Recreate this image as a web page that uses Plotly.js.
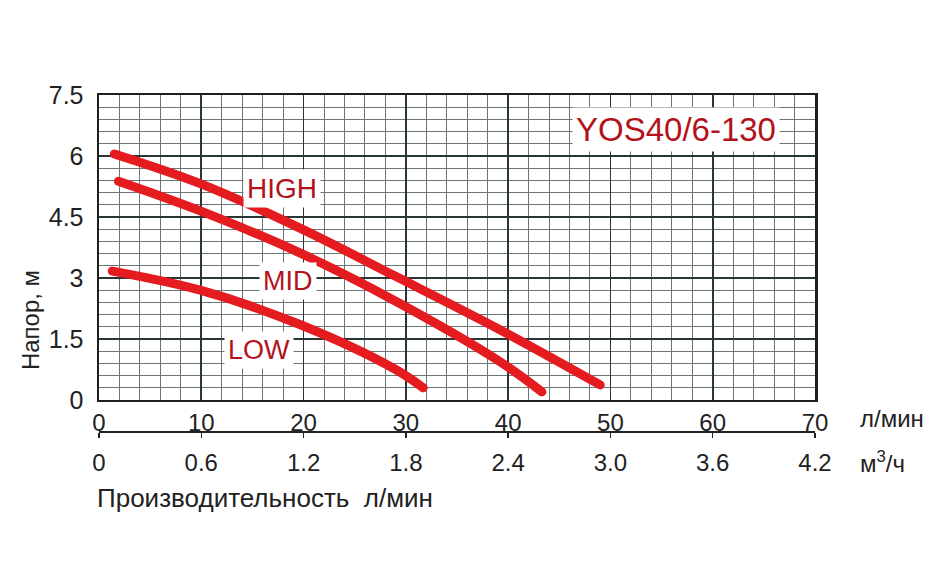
<!DOCTYPE html>
<html>
<head>
<meta charset="utf-8">
<script src="https://cdn.plot.ly/plotly-3.0.1.min.js"></script>
<style>
html,body{margin:0;padding:0;background:#fff;}
#chart{width:949px;height:587px;}
#chart path.js-line{stroke-linecap:round;stroke-linejoin:round;}
</style>
</head>
<body>
<div id="chart"></div>
<script>
// Flow (л/мин) and head (м)
const highFlow = [1.5, 9.9, 19.7, 29.0, 39.1, 49.0];
const highHead = [6.05, 5.32, 4.22, 3.04, 1.74, 0.37];
const midFlow  = [1.9, 9.9, 19.7, 29.0, 39.1, 43.3];
const midHead  = [5.38, 4.65, 3.61, 2.43, 0.96, 0.20];
const lowFlow  = [1.3, 9.9, 19.7, 29.0, 31.7];
const lowHead  = [3.17, 2.70, 1.85, 0.75, 0.30];

const flowTicks = [0, 10, 20, 30, 40, 50, 60, 70];
const headTicks = [0, 1.5, 3, 4.5, 6, 7.5];
const cubicTicks = [0, 0.6, 1.2, 1.8, 2.4, 3.0, 3.6, 4.2];
const cubicTickText = ['0', '0.6', '1.2', '1.8', '2.4', '3.0', '3.6', '4.2'];

const curveColor = '#e41b1f';
const labelColor = '#b3121b';
const FONT = 'Liberation Sans, Arial, sans-serif';

function curve(x, y, name) {
  return {x: x, y: y, name: name, type: 'scatter', mode: 'lines',
    line: {color: curveColor, width: 9, shape: 'spline', smoothing: 1},
    xaxis: 'x', yaxis: 'y', hoverinfo: 'skip'};
}

const traces = [
  curve(highFlow, highHead, 'HIGH'),
  curve(midFlow, midHead, 'MID'),
  curve(lowFlow, lowHead, 'LOW'),
  {x: [0, 4.2], y: [null, null], xaxis: 'x2', yaxis: 'y', type: 'scatter', mode: 'lines', showlegend: false, hoverinfo: 'skip'}
];

const layout = {
  width: 949, height: 587,
  margin: {l: 99, r: 134, t: 95, b: 155},
  paper_bgcolor: '#fff', plot_bgcolor: '#fff',
  showlegend: false,
  font: {family: FONT, color: '#222'},
  xaxis: {
    range: [0, 70], tickvals: flowTicks, anchor: 'y',
    showline: true, mirror: true, linecolor: '#1a1f1f', linewidth: 2.5,
    showgrid: true, gridcolor: '#2a3535', gridwidth: 1.8,
    zeroline: false, ticks: '', ticklabelstandoff: 0,
    tickfont: {size: 24, color: '#222'},
    minor: {dtick: 2, showgrid: true, gridcolor: '#6a7575', gridwidth: 1}
  },
  xaxis2: {
    range: [0, 4.2], overlaying: 'x', anchor: 'free', position: 0, side: 'bottom',
    tickvals: cubicTicks, ticktext: cubicTickText,
    showline: true, linecolor: '#222', linewidth: 2,
    showgrid: false, zeroline: false,
    ticks: 'outside', ticklen: 5, tickwidth: 1.5, tickcolor: '#222',
    ticklabelstandoff: 4,
    tickfont: {size: 24, color: '#222'}
  },
  yaxis: {
    range: [0, 7.5], tickvals: headTicks, domain: [0.095, 1],
    showline: true, mirror: true, linecolor: '#1a1f1f', linewidth: 2.5,
    showgrid: true, gridcolor: '#2a3535', gridwidth: 1.8,
    zeroline: false, ticks: '', ticklabelstandoff: 8,
    tickfont: {size: 25, color: '#222'},
    minor: {dtick: 0.3, showgrid: true, gridcolor: '#6a7575', gridwidth: 1}
  },
  annotations: [
    {text: 'HIGH', x: 17.9, y: 5.2, xref: 'x', yref: 'y', showarrow: false,
     font: {size: 28, color: labelColor}, bgcolor: '#fff', borderpad: 3},
    {text: 'MID', x: 18.5, y: 2.93, xref: 'x', yref: 'y', showarrow: false,
     font: {size: 27, color: labelColor}, bgcolor: '#fff', borderpad: 3},
    {text: 'LOW', x: 15.6, y: 1.23, xref: 'x', yref: 'y', showarrow: false,
     font: {size: 27, color: labelColor}, bgcolor: '#fff', borderpad: 3},
    {text: 'YOS40/6-130', x: 56.4, y: 6.64, xref: 'x', yref: 'y', showarrow: false,
     font: {size: 33, color: labelColor}, bgcolor: '#fff', borderpad: 3},
    {text: 'л/мин', x: 1.06, y: 0.0415, xref: 'paper', yref: 'paper', xanchor: 'left', yanchor: 'middle',
     showarrow: false, font: {size: 24, color: '#222'}},
    {text: 'м<sup>3</sup>/ч', x: 1.06, y: -0.089, xref: 'paper', yref: 'paper', xanchor: 'left', yanchor: 'middle',
     showarrow: false, font: {size: 24, color: '#222'}},
    {text: 'Производительность  л/мин', x: -0.005, y: -0.196, xref: 'paper', yref: 'paper', xanchor: 'left', yanchor: 'middle',
     showarrow: false, font: {size: 26, color: '#222'}},
    {text: 'Напор, м', x: -0.0964, y: 0.332, xref: 'paper', yref: 'paper', xanchor: 'center', yanchor: 'middle',
     textangle: -90, showarrow: false, font: {size: 24, color: '#222'}}
  ]
};

Plotly.newPlot('chart', traces, layout, {displayModeBar: false, staticPlot: true});
</script>
</body>
</html>
